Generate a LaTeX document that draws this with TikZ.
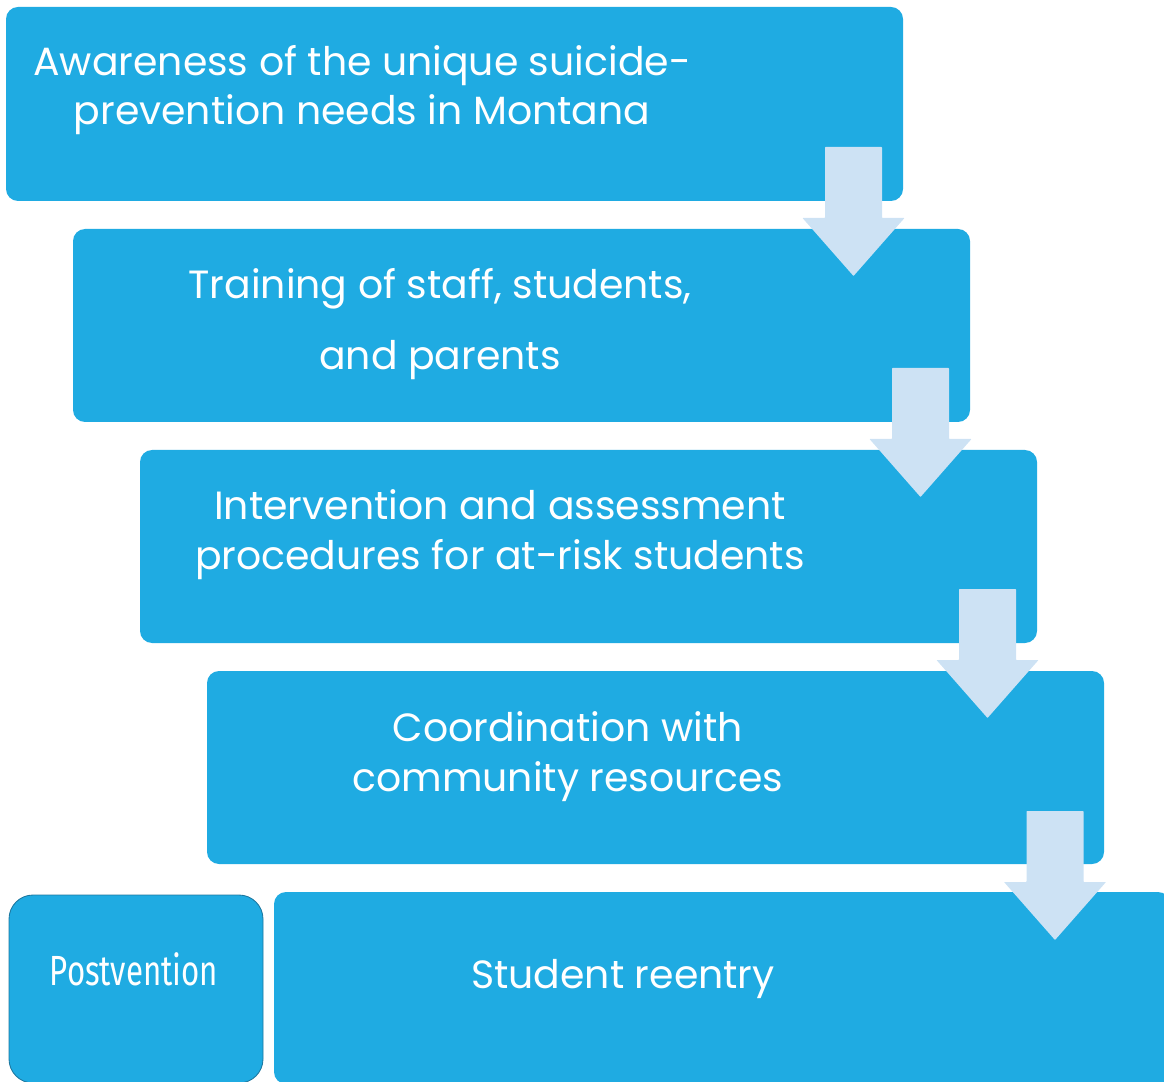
\documentclass[tikz,border=0pt]{standalone}
\usepackage{fontspec}
\setmainfont{Poppins}
\newfontfamily\postfont{Fira Sans}[FakeStretch=0.74]
\usetikzlibrary{positioning}

\definecolor{boxblue}{RGB}{31,171,226}
\definecolor{arrowblue}{RGB}{205,226,244}
\definecolor{edgeblue}{RGB}{28,118,158}

\tikzset{
  stepbox/.style={fill=boxblue,rounded corners=0.3cm},
  postbox/.style={fill=boxblue,draw=edgeblue,line width=0.6pt,rounded corners=0.6cm},
  steptext/.style={text=white,align=center,anchor=base,font=\fontsize{28}{35.5}\selectfont},
  posttext/.style={text=white,anchor=base,font=\postfont\fontsize{30}{36}\selectfont},
  downarrow/.style={fill=arrowblue,rounded corners=0.4pt}
}

\begin{document}
\begin{tikzpicture}[x=0.025cm,y=-0.025cm]
\useasboundingbox (0,0) rectangle (1164,1082);
\clip (0,0) rectangle (1164,1082);

% stair of steps
\fill[stepbox] (6,7) rectangle (903,201);
\fill[stepbox] (73,229) rectangle (970,422);
\fill[stepbox] (140,450) rectangle (1037,643);
\fill[stepbox] (207,671) rectangle (1104,864);
\fill[stepbox] (274,892) rectangle (1170,1084);
\filldraw[postbox] (9,895) rectangle (263,1083);

% arrows between the steps
\foreach \cx/\ty in {853.5/147,920.5/368,987.5/589,1055/811}
  \fill[downarrow] (\cx-28.5,\ty) -- (\cx+28.5,\ty) -- (\cx+28.5,\ty+71)
    -- (\cx+51,\ty+71) -- (\cx,\ty+129) -- (\cx-51,\ty+71)
    -- (\cx-28.5,\ty+71) -- cycle;

% labels (anchored at the baseline of the last line)
\node[steptext] (aware) at (362,125) {Awareness of the unique suicide-\\prevention needs in Montana};
\node[steptext,font=\fontsize{28}{51}\selectfont] (train) at (440,370) {Training of staff, students,\\and parents};
\node[steptext] (interv) at (500,569) {Intervention and assessment\\procedures for at-risk students};
\node[steptext] (coord) at (568,791) {Coordination with\\community resources};
\node[steptext] (reentry) at (623,988) {Student reentry};
\node[posttext] (post) at (134,985) {Postvention};
\end{tikzpicture}
\end{document}
